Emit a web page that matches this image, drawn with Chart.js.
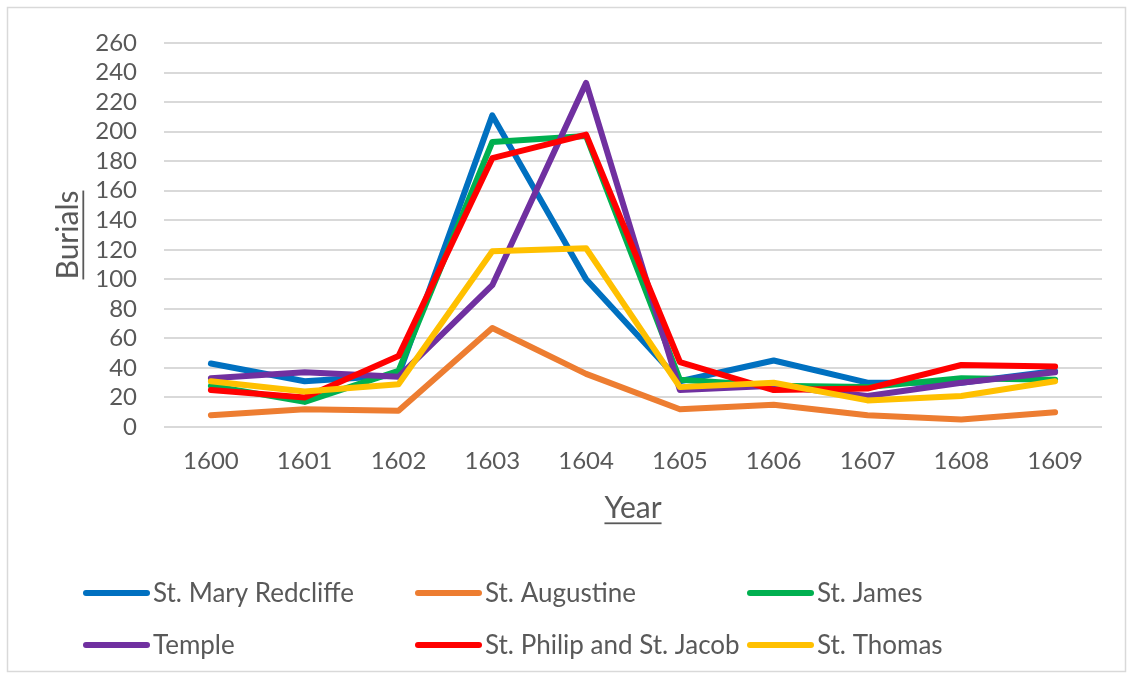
<!DOCTYPE html>
<html>
<head>
<meta charset="utf-8">
<script src="https://cdn.jsdelivr.net/npm/chart.js@4.4.1/dist/chart.umd.min.js"></script>
<style>
  html, body { margin: 0; padding: 0; background: #ffffff; }
  #wrap { position: relative; width: 1132px; height: 679px; }
  canvas { display: block; }
</style>
</head>
<body>
<div id="wrap"><canvas id="chart" width="1132" height="679"></canvas></div>
<script>
// Burials per parish, 1600-1609
const years = ['1600', '1601', '1602', '1603', '1604', '1605', '1606', '1607', '1608', '1609'];
const stMaryRedcliffe = [43, 31, 35, 211, 100, 31, 45, 30, 30, 38];
const stAugustine     = [8, 12, 11, 67, 36, 12, 15, 8, 5, 10];
const stJames         = [28, 17, 38, 193, 197, 32, 28, 27, 33, 32];
const temple          = [33, 37, 34, 96, 233, 25, 28, 21, 30, 37];
const stPhilipJacob   = [25, 20, 48, 182, 198, 44, 25, 26, 42, 41];
const stThomas        = [31, 24, 29, 119, 121, 27, 30, 18, 21, 31];

const seriesNames  = ['St. Mary Redcliffe', 'St. Augustine', 'St. James', 'Temple', 'St. Philip and St. Jacob', 'St. Thomas'];
const seriesValues = [stMaryRedcliffe, stAugustine, stJames, temple, stPhilipJacob, stThomas];
const seriesColors = ['#0070C0', '#ED7D31', '#00B050', '#7030A0', '#FF0000', '#FFC000'];

const yMin = 0, yMax = 260, yStep = 20;
const xTitle = 'Year';
const yTitle = 'Burials';

const FONT = 'Lato, "Open Sans", sans-serif';
const TEXT = '#595959';
const GRID = '#d9d9d9';

function underlinedText(ctx, text, x, y, size) {
  ctx.font = size + 'px ' + FONT;
  ctx.fillStyle = TEXT;
  ctx.textAlign = 'center';
  ctx.textBaseline = 'middle';
  ctx.fillText(text, x, y);
  const w = ctx.measureText(text).width;
  ctx.fillRect(x - w / 2, y + size * 0.48, w, 1.8);
}

const decorations = {
  id: 'decorations',
  afterDraw(chart) {
    const ctx = chart.ctx;
    const a = chart.chartArea;
    ctx.save();
    // outer frame
    ctx.strokeStyle = GRID;
    ctx.lineWidth = 1.5;
    ctx.strokeRect(7.5, 7.5, 1118, 664);

    // axis titles
    underlinedText(ctx, xTitle, (a.left + a.right) / 2, 508, 30);
    ctx.save();
    ctx.translate(70, (a.top + a.bottom) / 2);
    ctx.rotate(-Math.PI / 2);
    underlinedText(ctx, yTitle, 0, -2, 30);
    ctx.restore();

    // legend: three columns, two rows
    const colX = [83, 415, 747];
    const rowY = [593, 645];
    chart.data.datasets.forEach((ds, i) => {
      const x = colX[i % 3];
      const y = rowY[Math.floor(i / 3)];
      ctx.strokeStyle = ds.borderColor;
      ctx.lineWidth = 6;
      ctx.lineCap = 'round';
      ctx.beginPath();
      ctx.moveTo(x + 3, y);
      ctx.lineTo(x + 64, y);
      ctx.stroke();
      ctx.font = '26px ' + FONT;
      ctx.fillStyle = TEXT;
      ctx.textAlign = 'left';
      ctx.textBaseline = 'middle';
      ctx.fillText(ds.label, x + 70, y + 1);
    });
    ctx.restore();
  }
};

new Chart(document.getElementById('chart'), {
  type: 'line',
  data: {
    labels: years,
    datasets: seriesNames.map((name, i) => ({
      label: name,
      data: seriesValues[i],
      borderColor: seriesColors[i],
      backgroundColor: seriesColors[i],
      borderWidth: 6,
      borderJoinStyle: 'round',
      borderCapStyle: 'round',
      pointRadius: 0,
      tension: 0,
      order: seriesNames.length - i
    }))
  },
  options: {
    responsive: false,
    animation: false,
    layout: { padding: { left: 0, top: 43, right: 30, bottom: 152 } },
    plugins: { legend: { display: false }, tooltip: { enabled: false } },
    scales: {
      x: {
        offset: true,
        grid: { display: false, drawTicks: false },
        border: { display: false },
        ticks: { color: TEXT, font: { family: FONT, size: 24 }, padding: 20, maxRotation: 0, autoSkip: false },
        afterFit(s) { s.height = 100; }
      },
      y: {
        min: yMin,
        max: yMax,
        grid: { color: GRID, lineWidth: 2, drawTicks: false },
        border: { display: false },
        ticks: { stepSize: yStep, color: TEXT, font: { family: FONT, size: 24 }, padding: 27, autoSkip: false },
        afterFit(s) { s.width = 164; }
      }
    }
  },
  plugins: [decorations]
});
</script>
</body>
</html>
